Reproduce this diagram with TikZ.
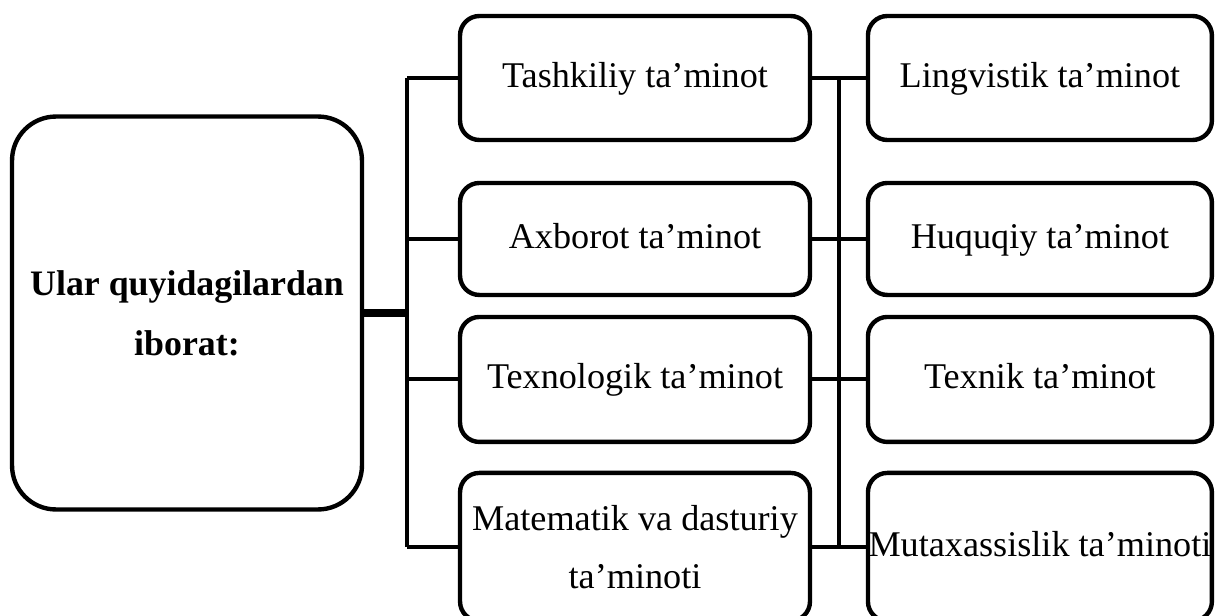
\documentclass[tikz,border=0pt]{standalone}
\usepackage{fontspec}
\setmainfont{Liberation Serif}
\usetikzlibrary{positioning}

\begin{document}
\begin{tikzpicture}[x=0.02cm, y=-0.02cm,
  font=\fontsize{20.6}{33}\selectfont,
  box/.style={draw, line width=2.5pt, rounded corners=11pt, outer sep=0pt, inner xsep=0pt,
    align=center, minimum width=7cm},
  single/.style={box, text height=15pt, text depth=4.5pt},
  rbox/.style={single, minimum width=6.88cm},
  conn/.style={line width=2.3pt},
  bus/.style={line width=1.8pt}]
\useasboundingbox (0,0) rectangle (1216,615);
\clip (0,0) rectangle (1216,615);

% Main box
\node[box, rounded corners=25pt, minimum height=7.86cm, font=\fontsize{20.4}{34}\selectfont\bfseries] (main) at (187,313) {Ular quyidagilardan\\iborat:};

% Middle column
\node[single, minimum height=2.48cm] (t1) at (635,78) {Tashkiliy ta’minot};
\node[single, minimum height=2.24cm, below=0.86cm of t1] (t2) {Axborot ta’minot};
\node[single, minimum height=2.5cm, below=0.44cm of t2] (t3) {Texnologik ta’minot};
\node[box, minimum height=2.96cm, below=0.62cm of t3] (t4) {Matematik va dasturiy\\ta’minoti};

% Right column
\node[rbox, minimum height=2.48cm, right=1.16cm of t1] (r1) {Lingvistik ta’minot};
\node[rbox, minimum height=2.24cm, right=1.16cm of t2] (r2) {Huquqiy ta’minot};
\node[rbox, minimum height=2.5cm, right=1.16cm of t3] (r3) {Texnik ta’minot};
\node[rbox, minimum height=2.96cm, right=1.16cm of t4] (r4) {Mutaxassislik ta’minoti};

% Left bus
\coordinate (lbus) at (407,311);
\draw[line width=4pt] (main.east) -- (main.east -| lbus);
\draw[bus] (t1.west -| lbus) -- (t4.west -| lbus);
\foreach \n in {t1,t2,t3,t4}
  \draw[conn] (\n.west -| lbus) -- (\n.west);

% Right bus
\coordinate (rbus) at (839,0);
\draw[bus] (t1.east -| rbus) -- (t4.east -| rbus);
\foreach \a/\b in {t1/r1,t2/r2,t3/r3,t4/r4}
  \draw[conn] (\a.east) -- (\b.west);
\end{tikzpicture}
\end{document}
